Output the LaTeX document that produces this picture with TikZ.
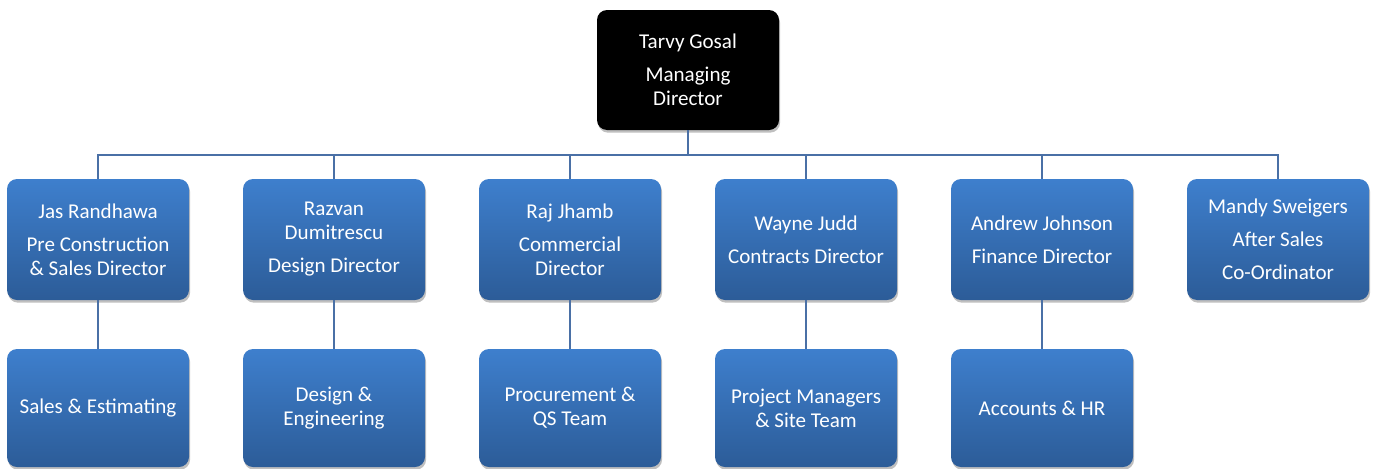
\documentclass[tikz,border=0pt]{standalone}
\usepackage{fontspec}
\setmainfont{Carlito}
\usetikzlibrary{shadows}
\definecolor{linec}{RGB}{74,112,166}
\definecolor{boxtop}{RGB}{62,127,205}
\definecolor{boxbot}{RGB}{44,92,152}
\tikzset{
  base/.style={rounded corners=7.5pt, align=center, text=white, inner sep=2pt,
    minimum width=136.5pt, font=\fontsize{15.8}{18}\selectfont,
    drop shadow={shadow xshift=0.8pt, shadow yshift=-2pt, opacity=0.25, fill=black}},
  bossbox/.style={base, fill=black, minimum height=90pt},
  rolebox/.style={base, top color=boxtop, bottom color=boxbot, draw=none, minimum height=90.75pt},
  teambox/.style={base, top color=boxtop, bottom color=boxbot, draw=none, minimum height=88.5pt},
  conn/.style={draw=linec, line width=1.5pt}
}
\newcommand{\pgap}{\\[6.75pt]}
\begin{document}
\begin{tikzpicture}[x=0.75pt,y=-0.75pt]
\useasboundingbox (0,0) rectangle (1374,468);
\node[bossbox] (md) at (688,70) {Tarvy Gosal\pgap Managing\\Director};
\node[rolebox] (r1) at (98,239.5) {Jas Randhawa\pgap Pre Construction\\\& Sales Director};
\node[rolebox] (r2) at (334,239.5) {Razvan\\Dumitrescu\pgap Design Director};
\node[rolebox] (r3) at (570,239.5) {Raj Jhamb\pgap Commercial\\Director};
\node[rolebox] (r4) at (806,239.5) {Wayne Judd\pgap Contracts Director};
\node[rolebox] (r5) at (1042,239.5) {Andrew Johnson\pgap Finance Director};
\node[rolebox] (r6) at (1278,239.5) {Mandy Sweigers\pgap After Sales\pgap Co-Ordinator};
\node[teambox] (t1) at (98,408) {Sales \& Estimating};
\node[teambox] (t2) at (334,408) {Design \&\\Engineering};
\node[teambox] (t3) at (570,408) {Procurement \&\\QS Team};
\node[teambox] (t4) at (806,408) {Project Managers\\\& Site Team};
\node[teambox] (t5) at (1042,408) {Accounts \& HR};
\coordinate (bar) at (688,155);
\foreach \r in {r1,r2,r3,r4,r5,r6}{
  \draw[conn] (md.south) -- (bar) -| (\r.north);
}
\foreach \i in {1,...,5}{
  \draw[conn] (r\i.south) -- (t\i.north);
}
\end{tikzpicture}
\end{document}
